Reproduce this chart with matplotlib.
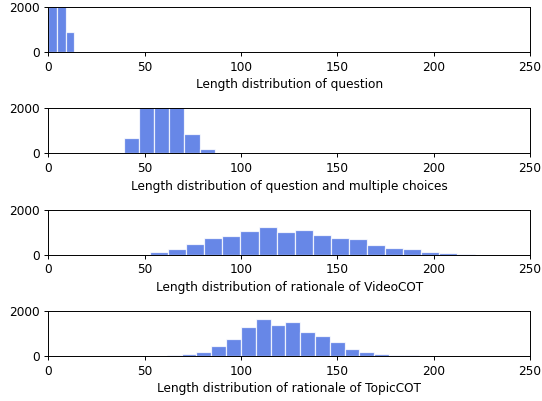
import numpy as np
import matplotlib
matplotlib.use("Agg")
import matplotlib.pyplot as plt

# Histogram data (bin start, bin width, counts)
q_start, q_width = 0.0, 4.5
q_counts = [5200, 6100, 875]

qm_start, qm_width = 39.1, 7.89
qm_counts = [690, 4800, 5600, 3900, 850, 190, 15]

vc_start, vc_width = 53.0, 9.35
vc_counts = [140, 265, 475, 735, 820, 1060, 1212, 1015, 1100, 866, 735, 700,
             445, 310, 265, 133, 70, 15]

tc_start, tc_width = 61.5, 7.69
tc_counts = [55, 100, 200, 465, 770, 1286, 1630, 1400, 1529, 1071, 886, 614,
             329, 200, 100, 57, 50, 15, 12, 10, 6]

labels = ["Length distribution of question",
          "Length distribution of question and multiple choices",
          "Length distribution of rationale of VideoCOT",
          "Length distribution of rationale of TopicCOT"]

series = [(q_start, q_width, q_counts),
          (qm_start, qm_width, qm_counts),
          (vc_start, vc_width, vc_counts),
          (tc_start, tc_width, tc_counts)]

s = 0.87
plt.rcParams.update({
    "font.size": 10 * s,
    "axes.linewidth": 0.8 * s,
    "xtick.major.size": 3.5 * s,
    "ytick.major.size": 3.5 * s,
    "xtick.major.width": 0.8 * s,
    "ytick.major.width": 0.8 * s,
    "xtick.major.pad": 3.5 * s,
    "ytick.major.pad": 3.5 * s,
    "axes.labelpad": 4 * s,
})

fig, axes = plt.subplots(4, 1, figsize=(5.42, 4.01), dpi=100)
fig.subplots_adjust(left=0.089, right=0.978, top=0.9825, bottom=0.112, hspace=1.246)

for ax, (start, width, counts), lab in zip(axes, series, labels):
    counts = np.asarray(counts, dtype=float)
    edges = start + width * np.arange(len(counts) + 1)
    centers = (edges[:-1] + edges[1:]) / 2
    ax.hist(centers, bins=edges, weights=counts, color="royalblue", alpha=0.8,
            edgecolor="white", linewidth=1 * s)
    ax.set_xlim(0, 250)
    ax.set_ylim(0, 2000)
    ax.set_yticks([0, 2000])
    ax.set_xticks([0, 50, 100, 150, 200, 250])
    ax.set_xlabel(lab)

fig.savefig("out.png", dpi=100)
